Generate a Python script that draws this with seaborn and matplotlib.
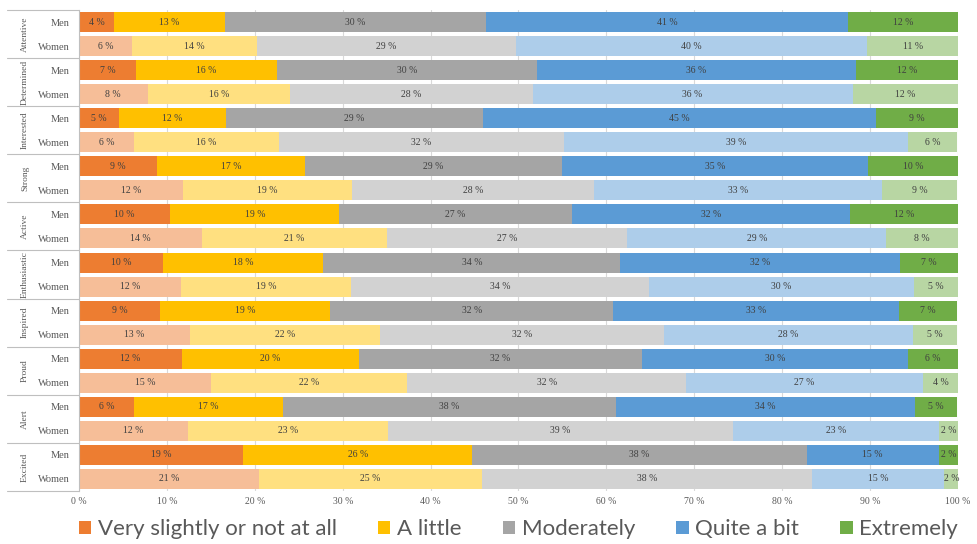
import numpy as np
import pandas as pd
import matplotlib
matplotlib.use("Agg")
import matplotlib.pyplot as plt
from matplotlib.patches import Patch
from matplotlib.transforms import blended_transform_factory
import seaborn as sns

# Data (shares, labels as printed)
items = ['Attentive', 'Determined', 'Interested', 'Strong', 'Active',
         'Enthusiastic', 'Inspired', 'Proud', 'Alert', 'Excited']
sexes = ['Men', 'Women']
responses = ['Very slightly or not at all', 'A little', 'Moderately',
             'Quite a bit', 'Extremely']

men_share = [
    [4.0, 12.6, 29.7, 41.2, 12.6],
    [6.5, 16.0, 29.6, 36.3, 11.6],
    [4.6, 12.1, 29.3, 44.7, 9.3],
    [8.9, 16.8, 29.3, 34.8, 10.2],
    [10.4, 19.2, 26.5, 31.6, 12.3],
    [9.5, 18.3, 33.8, 31.8, 6.6],
    [9.2, 19.4, 32.2, 32.5, 6.6],
    [11.7, 20.2, 32.1, 30.3, 5.7],
    [6.3, 16.9, 37.9, 34.0, 4.8],
    [18.7, 26.0, 38.1, 15.0, 2.3],
]
women_share = [
    [6.0, 14.3, 29.4, 39.9, 10.5],
    [7.8, 16.2, 27.6, 36.4, 12.0],
    [6.3, 16.4, 32.5, 39.1, 5.6],
    [11.8, 19.3, 27.5, 32.7, 8.6],
    [14.0, 21.0, 27.4, 29.4, 8.2],
    [11.6, 19.4, 33.8, 30.2, 5.0],
    [12.6, 21.7, 32.2, 28.4, 5.0],
    [15.0, 22.3, 31.8, 26.9, 4.1],
    [12.4, 22.7, 39.3, 23.4, 2.3],
    [20.5, 25.3, 37.6, 15.0, 1.7],
]
men_lbl = [
    [4, 13, 30, 41, 12], [7, 16, 30, 36, 12], [5, 12, 29, 45, 9],
    [9, 17, 29, 35, 10], [10, 19, 27, 32, 12], [10, 18, 34, 32, 7],
    [9, 19, 32, 33, 7], [12, 20, 32, 30, 6], [6, 17, 38, 34, 5],
    [19, 26, 38, 15, 2],
]
women_lbl = [
    [6, 14, 29, 40, 11], [8, 16, 28, 36, 12], [6, 16, 32, 39, 6],
    [12, 19, 28, 33, 9], [14, 21, 27, 29, 8], [12, 19, 34, 30, 5],
    [13, 22, 32, 28, 5], [15, 22, 32, 27, 4], [12, 23, 39, 23, 2],
    [21, 25, 38, 15, 2],
]

men_colors = ['#ED7D31', '#FFC000', '#A5A5A5', '#5B9BD5', '#70AD47']


def lighten(c):
    rgb = np.array(matplotlib.colors.to_rgb(c))
    return tuple(0.5 * rgb + 0.5)


women_colors = [lighten(c) for c in men_colors]

# long table, one row per (item, sex)
rows, shares, labels = [], [], []
for i, it in enumerate(items):
    rows.append((it, 'Men')); shares.append(men_share[i]); labels.append(men_lbl[i])
    rows.append((it, 'Women')); shares.append(women_share[i]); labels.append(women_lbl[i])
shares = np.array(shares)
labels = np.array(labels)
cum = shares.cumsum(axis=1)

df = pd.DataFrame({'row': [f'{a} {b}' for a, b in rows],
                   'sex': [b for a, b in rows]})
order = list(df['row'])

sns.set_theme(style="white")
plt.rcParams['font.family'] = ['Liberation Serif', 'DejaVu Serif']

fig = plt.figure(figsize=(9.78, 5.44), dpi=100)
ax = fig.add_axes([79 / 978, 53 / 544, 879 / 978, 481 / 544])

# stacked bars: draw cumulative totals from the last response backwards
for k in range(len(responses) - 1, -1, -1):
    df['cum'] = cum[:, k]
    sns.barplot(data=df, x='cum', y='row', hue='sex', order=order,
                palette={'Men': men_colors[k], 'Women': women_colors[k]},
                orient='h', dodge=False, width=0.83, saturation=1,
                errorbar=None, legend=False, linewidth=0, ax=ax)

# value labels
for r in range(len(order)):
    for k in range(len(responses)):
        xc = cum[r, k] - shares[r, k] / 2
        ax.text(xc, r, f'{labels[r, k]} %', ha='center', va='center',
                fontsize=7, color='#404040')

ax.set_xlim(0, 100)
ax.set_ylim(len(order) - 0.5, -0.5)
ax.set_xticks(range(0, 101, 10))
ax.set_xticklabels([f'{v} %' for v in range(0, 101, 10)], fontsize=7, color='#595959')
ax.set_yticks(range(len(order)))
ax.set_yticklabels([b for a, b in rows], fontsize=7.5, color='#595959')
ax.tick_params(axis='x', length=0, pad=4)
ax.tick_params(axis='y', length=0, pad=7)
ax.set_xlabel('')
ax.set_ylabel('')
ax.xaxis.grid(True, color='#D9D9D9', linewidth=0.8)
ax.set_axisbelow(True)
for s in ['top', 'right', 'bottom']:
    ax.spines[s].set_visible(False)
ax.spines['left'].set_color('#BFBFBF')
ax.spines['left'].set_linewidth(0.8)

# group labels and separators in the left margin
trans = blended_transform_factory(ax.transAxes, ax.transData)
for g, it in enumerate(items):
    ax.text(-0.0614, 2 * g + 0.5, it, rotation=90, ha='center', va='center',
            fontsize=6.8, color='#595959', transform=trans)
for b in np.arange(-0.5, len(order), 2):
    ax.plot([-0.082, 0], [b, b], color='#BFBFBF', linewidth=0.8,
            transform=trans, clip_on=False)

handles = [Patch(facecolor=c, edgecolor='none') for c in men_colors]
leg = ax.legend(handles, responses, loc='center', ncol=5, mode='expand',
                bbox_to_anchor=(0, -0.1, 1, 0.04), frameon=False,
                handlelength=0.55, handleheight=0.55,
                handletextpad=0.3, borderaxespad=0, borderpad=0,
                prop={'family': 'Lato', 'size': 16})
for t in leg.get_texts():
    t.set_color('#595959')

fig.savefig('out.png', dpi=100)
